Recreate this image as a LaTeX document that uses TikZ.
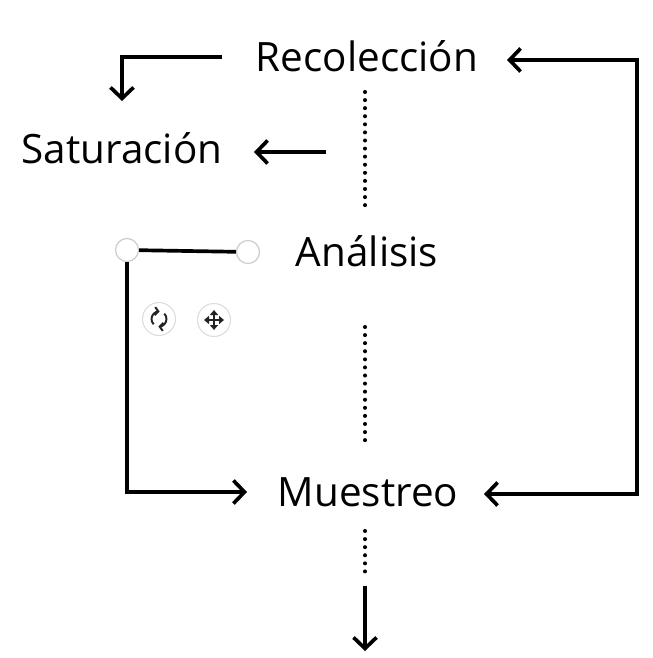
\documentclass[tikz,border=0pt]{standalone}
\usepackage{fontspec}
\setmainfont{Open Sans}
\usetikzlibrary{positioning,arrows.meta,calc}
\definecolor{HandleGray}{RGB}{205,205,205}
\definecolor{IconInk}{RGB}{35,35,35}

\tikzset{
  stage/.style={font=\fontsize{23}{27}\selectfont, anchor=base, inner sep=0pt},
  flow/.style={line width=2.1pt, -{Straight Barb[length=2.2mm, width=4.6mm]}},
  link/.style={line width=2.1pt},
  dotline/.style={line width=2.3pt, line cap=round, dash pattern=on 0pt off 4.6pt},
  handle/.style={circle, draw=HandleGray, fill=white, line width=0.7pt, minimum size=0.46cm, inner sep=0pt},
  iconbtn/.style={circle, draw=HandleGray!70, fill=white, line width=0.6pt, minimum size=0.66cm, inner sep=0pt},
}

\begin{document}
\begin{tikzpicture}[x=0.02cm, y=-0.02cm]
  \useasboundingbox[fill=white] (0,0) rectangle (652,658);

  % stages
  \node[stage] (rec) at (367,72) {Recolección};
  \node[stage] (sat) at (122,164) {Saturación};
  \node[stage] (ana) at (367,266) {Análisis};
  \node[stage] (mue) at (368,506) {Muestreo};

  % free ends
  \coordinate (recL) at (222,57);
  \coordinate (satT) at (122,101);
  \coordinate (satR) at (326,152);
  \coordinate (satA) at (254,152);
  \coordinate (mueL) at (247,492);
  \coordinate (mueR) at (484,494);
  \coordinate (recR) at (507,60);
  \coordinate (side) at (637,0);
  \coordinate (endB) at (365,651);

  % arrows
  \draw[flow] (recL) -| (satT);
  \draw[flow] (satR) -- (satA);
  \draw[line width=2.1pt, {Straight Barb[length=2.2mm, width=4.6mm]}-{Straight Barb[length=2.2mm, width=4.6mm]}]
    (mueR) -- (side |- mueR) -- (side |- recR) -- (recR);

  % dotted links
  \draw[dotline] (365,92) -- (365,210);
  \draw[dotline] (365,327) -- (365,446);
  \draw[dotline] (365,531) -- (365,578);
  \draw[flow] (365,586) -- (endB);

  % selected connector with handles
  \node[handle] (h1) at (127,250) {};
  \node[handle] (h2) at (248,252) {};
  \draw[link] (h1) -- (h2);
  \draw[flow] (h1) |- (mueL);

  % tool buttons
  \node[iconbtn] (rot) at (159,319) {};
  \node[iconbtn] (mov) at (214,320) {};
  \begin{scope}[shift={(rot.center)}, x=0.02cm, y=0.02cm, IconInk, line width=1.1pt]
    \draw[-{Straight Barb[length=0.7mm, width=1.6mm]}] (225:7.5) arc (225:85:7.5);
    \draw[-{Straight Barb[length=0.7mm, width=1.6mm]}] (45:7.5) arc (45:-95:7.5);
  \end{scope}
  \begin{scope}[shift={(mov.center)}, x=0.02cm, y=0.02cm, IconInk, line width=0.9pt]
    \draw[{Triangle[length=1mm, width=1.6mm]}-{Triangle[length=1mm, width=1.6mm]}] (-10,0) -- (10,0);
    \draw[{Triangle[length=1mm, width=1.6mm]}-{Triangle[length=1mm, width=1.6mm]}] (0,-10) -- (0,10);
  \end{scope}
\end{tikzpicture}
\end{document}
